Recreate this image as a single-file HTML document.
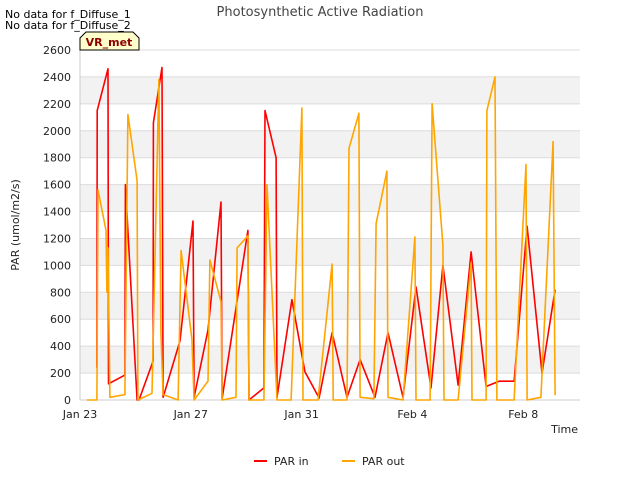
<!DOCTYPE html>
<html><head><meta charset="utf-8"><style>
body{margin:0;background:#fff;font-family:"Liberation Sans","DejaVu Sans",sans-serif}
svg text{font-family:"DejaVu Sans","Liberation Sans",sans-serif}
</style></head><body>
<svg id="c" width="640" height="480" xmlns="http://www.w3.org/2000/svg">
<text x="5" y="18" font-size="11" fill="#000">No data for f_Diffuse_1</text>
<text x="5" y="29" font-size="11" fill="#000">No data for f_Diffuse_2</text>
<text x="320" y="16" font-size="13" fill="#444" text-anchor="middle">Photosynthetic Active Radiation</text>
<g id="plot"></g>
<text x="19" y="225" font-size="11" fill="#222" text-anchor="middle" transform="rotate(-90 19 225)">PAR (umol/m2/s)</text>
<text x="578" y="433" font-size="11" fill="#222" text-anchor="end">Time</text>
<g>
<path d="M80,50 L80,38 L86,32 L133,32 L139,38 L139,50 Z" fill="#ffffcc" stroke="#000" stroke-width="1"/>
<text x="109" y="46" font-size="11" font-weight="bold" fill="#8b0000" text-anchor="middle">VR_met</text>
</g>
<g>
<line x1="254" y1="461" x2="267" y2="461" stroke="#ff0000" stroke-width="2"/>
<text x="274" y="465" font-size="11" fill="#222">PAR in</text>
</g>
<g>
<line x1="342" y1="461" x2="355" y2="461" stroke="#ffa500" stroke-width="2"/>
<text x="362" y="465" font-size="11" fill="#222">PAR out</text>
</g>
</svg>
<script>
const yTicks=[0,200,400,600,800,1000,1200,1400,1600,1800,2000,2200,2400,2600];
const xTickDays=[0,4,8,12,16];
const xTickLabels=["Jan 23","Jan 27","Jan 31","Feb 4","Feb 8"];
const inDays=[0.61,0.62,1.01,1.03,1.62,1.64,2.06,2.13,2.64,2.65,2.96,3.00,3.61,4.08,4.12,4.62,5.09,5.13,6.06,6.10,6.64,6.68,7.08,7.11,7.65,8.12,8.63,9.10,9.64,10.11,10.65,11.12,11.66,12.13,12.67,13.10,13.65,14.12,14.66,15.13,15.67,16.14,16.68,17.15];
const inVals=[240,2150,2460,120,185,1600,0,0,290,2060,2470,20,440,1330,20,520,1470,10,1260,0,90,2150,1800,20,745,210,15,500,20,300,20,500,20,840,90,1000,110,1100,100,140,140,1290,200,820];
const outDays=[0.25,0.61,0.65,0.94,0.97,1.01,1.08,1.62,1.73,2.06,2.09,2.60,2.85,2.92,3.00,3.54,3.65,4.04,4.12,4.62,4.69,5.09,5.13,5.63,5.67,6.06,6.10,6.64,6.75,7.11,7.62,8.01,8.05,8.59,9.10,9.14,9.64,9.71,10.07,10.11,10.61,10.69,11.08,11.12,11.66,12.09,12.13,12.64,12.71,13.10,13.14,13.65,14.12,14.15,14.66,14.69,14.98,15.05,15.67,16.10,16.14,16.64,17.08,17.15];
const outVals=[0,0,1560,1260,800,1130,20,40,2120,1630,0,50,2380,500,40,0,1110,450,0,140,1040,730,0,20,1130,1220,0,0,1600,0,0,2170,0,0,1010,0,0,1870,2130,20,10,1310,1700,20,0,1210,0,0,2200,1150,0,0,1020,0,0,2150,2400,0,0,1750,0,20,1920,35];
const X0=80,X1=580,Y0=400,Y1=50,DAYMAX=18.05,VMAX=2600;
const xs=d=>X0+(X1-X0)*d/DAYMAX;
const ys=v=>Y0-(Y0-Y1)*v/VMAX;
const NS="http://www.w3.org/2000/svg";
const g=document.getElementById('plot');
function mk(t,a){const e=document.createElementNS(NS,t);for(const k in a)e.setAttribute(k,a[k]);g.appendChild(e);return e;}
const bg=mk('rect',{x:X0,y:Y1,width:X1-X0,height:Y0-Y1,fill:'#fff'});


for(let i=0;i<yTicks.length-1;i++){
  if(i%2===1){
    const b=mk('rect',{x:X0,y:ys(yTicks[i+1]),width:X1-X0,height:ys(yTicks[i])-ys(yTicks[i+1]),fill:'#f2f2f2'});
    
    
  }
}
yTicks.forEach(v=>{
  const l=mk('line',{x1:X0,x2:X1,y1:ys(v),y2:ys(v),stroke:'#dcdcdc','stroke-width':1});
  
  
  const t=mk('text',{x:X0-9,y:ys(v)+4,'font-size':11,fill:'#222','text-anchor':'end'});
  t.textContent=v;
  
  
});
xTickDays.forEach((d,i)=>{
  const t=mk('text',{x:xs(d),y:Y0+18,'font-size':11,fill:'#222','text-anchor':'middle'});
  t.textContent=xTickLabels[i];
  
  
});
const ax=mk('line',{x1:X0,x2:X0,y1:Y1,y2:Y0,stroke:'#ccc'});


const axx=mk('line',{x1:X0,x2:X1,y1:Y0,y2:Y0,stroke:'#ccc'});


function series(days,vals,color,name){
  const p=mk('polyline',{points:days.map((d,i)=>xs(d).toFixed(1)+','+ys(vals[i]).toFixed(1)).join(' '),fill:'none',stroke:color,'stroke-width':1.6,'stroke-linejoin':'round'});
  
  
}
series(inDays,inVals,'#ff0000','par-in-line');
series(outDays,outVals,'#ffa500','par-out-line');
</script>
</body></html>
